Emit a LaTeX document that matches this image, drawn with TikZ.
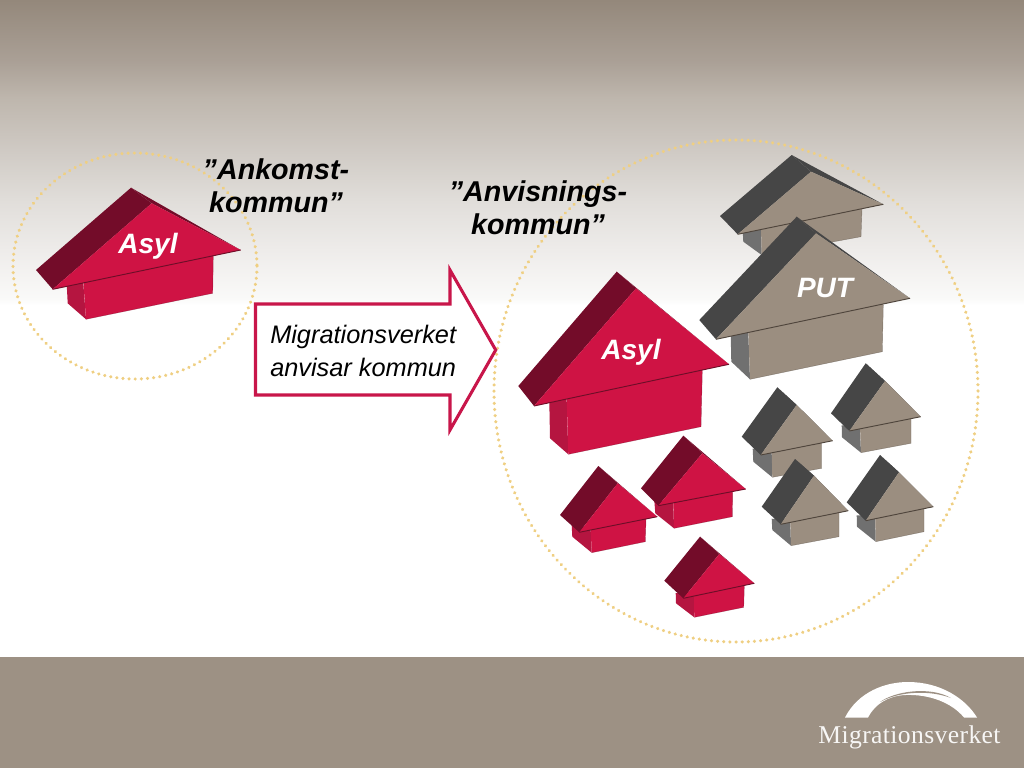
\documentclass[tikz,border=0pt]{standalone}
\usepackage{fontspec}
\setmainfont{Liberation Sans}
\newfontfamily\logofont{Liberation Serif}
\definecolor{bandc}{HTML}{9D9184}
\definecolor{asylf}{HTML}{CF1344}
\definecolor{asyld}{HTML}{730C29}
\definecolor{asyls}{HTML}{B51540}
\definecolor{asyll}{HTML}{6E0E28}
\definecolor{putf}{HTML}{9B8E80}
\definecolor{putd}{HTML}{464646}
\definecolor{puts}{HTML}{707070}
\definecolor{putl}{HTML}{4F453C}
\definecolor{dotc}{HTML}{EFCF82}
\definecolor{arrowc}{HTML}{C8164A}
\pgfdeclareverticalshading{skybg}{100bp}{rgb(0bp)=(1,1,1); rgb(25bp)=(1,1,1); rgb(26bp)=(0.98,0.98,0.975); rgb(34bp)=(0.933,0.925,0.918); rgb(42bp)=(0.882,0.87,0.855); rgb(50bp)=(0.816,0.796,0.773); rgb(59bp)=(0.745,0.714,0.678); rgb(65bp)=(0.667,0.627,0.588); rgb(75bp)=(0.58,0.533,0.482); rgb(100bp)=(0.58,0.533,0.482)}
\tikzset{
  x=0.75pt,y=-0.75pt,
  dotring/.style={dotc,line width=2.6pt,line cap=round,dash pattern=on 0.01pt off 4.6pt},
  asyl/.style={/tikz/hf/.style={fill=asylf},/tikz/hd/.style={fill=asyld},/tikz/hs/.style={fill=asyls},/tikz/hl/.style={draw=asyll}},
  put/.style={/tikz/hf/.style={fill=putf},/tikz/hd/.style={fill=putd},/tikz/hs/.style={fill=puts},/tikz/hl/.style={draw=putl}},
  hf/.style={},hd/.style={},hs/.style={},hl/.style={},
  headtext/.style={font=\fontsize{21.5}{25}\selectfont\bfseries\itshape,align=center,text=black,inner sep=0pt},
  labeltext/.style={font=\fontsize{21}{24}\selectfont\bfseries\itshape,text=white,inner sep=0pt},
  arrowbox/.style={draw=arrowc,fill=white,line width=2.3pt,miter limit=10},
  bodytext/.style={font=\fontsize{19}{24.3}\selectfont\itshape,align=left,text=black,inner sep=0pt}
}
% side-top, side-bottom, corner-bottom, corner-top, right-bottom, right-top
\newcommand{\hwalls}[6]{%
  \fill[hs] #1 ++(0,-3) -- #2 -- #3 -- #4 -- ++(0,-3) -- cycle;
  \fill[hf] #4 ++(0,-3) -- #3 -- #5 -- #6 -- ++(0,-3) -- cycle;
  \draw[hl,line width=0.3pt,opacity=.5] #3 -- #5 -- #6;
}
% apex, back-low, front-low, tip, ridge-inner
\newcommand{\hroof}[5]{%
  \fill[hd] #1 -- #5 -- #4 -- cycle;
  \fill[hd] #1 -- #2 -- #3 -- #5 -- cycle;
  \fill[hf] #5 -- #3 -- #4 -- cycle;
  \draw[hl,line width=0.7pt] #3 -- #4;
}
\begin{document}
\begin{tikzpicture}
\useasboundingbox (0,0) rectangle (1024,768);
\fill[white] (0,0) rectangle (1024,768);
\shade[shading=skybg] (0,0) rectangle (1024,305);
\fill[bandc] (0,657) rectangle (1024,768);

\draw[dotring] (135,266) ellipse [x radius=122,y radius=113];
\draw[dotring] (736,391) ellipse [x radius=242,y radius=251];

% left house
\begin{scope}[asyl]
\hwalls{(66.7,286.7)}{(67.7,303.3)}{(86,319.3)}{(83.3,283.3)}{(212.7,293.3)}{(213.3,256.7)}
\hroof{(131,187.7)}{(36,270)}{(52.7,289.3)}{(240.7,250)}{(151.7,203.3)}
\end{scope}

% PUT houses
\begin{scope}[put]
\hwalls{(742.7,233.3)}{(743.3,241.7)}{(761.7,255)}{(761,230)}{(861,236.7)}{(862,209.3)}
\hroof{(791.7,155)}{(720,216)}{(737.7,234.3)}{(883.3,204.3)}{(811,171.7)}
\hwalls{(730.7,336.7)}{(731.3,361.7)}{(750,379.3)}{(748.3,333.3)}{(882.3,351.7)}{(883.3,305)}
\hroof{(796.7,216.7)}{(699.3,320)}{(716,339.3)}{(910,298.3)}{(816,233.3)}
\hwalls{(752.7,451.7)}{(753.3,461.7)}{(772.3,477.3)}{(771.7,453.3)}{(821.7,468.3)}{(821.7,443.3)}
\hroof{(777.3,387.3)}{(741.7,436.7)}{(760.7,455)}{(832.7,440.7)}{(796.7,405)}
\hwalls{(841.7,428.3)}{(842,437.3)}{(861,452.7)}{(860,429)}{(911,443.3)}{(911,419.3)}
\hroof{(865.7,363.3)}{(831,413.3)}{(849.3,431)}{(920.7,416.7)}{(885,381)}
\hwalls{(771.7,521.7)}{(772.3,530)}{(791,545.7)}{(790.3,523.3)}{(839,536.7)}{(839,513.3)}
\hroof{(795,459)}{(761.7,506.7)}{(780.7,524.3)}{(848.3,510.7)}{(814,475.7)}
\hwalls{(856.7,518.3)}{(857,526.7)}{(875.7,541.7)}{(875.3,519)}{(924,531.7)}{(924,509)}
\hroof{(880,455)}{(846.7,502.3)}{(865.7,520.7)}{(933.3,506.7)}{(899,472.3)}
\end{scope}

% Asyl houses on the right
\begin{scope}[asyl]
\hwalls{(549.3,404)}{(550,438.3)}{(568.3,454.3)}{(566.7,400.7)}{(701,426.7)}{(702.3,371.7)}
\hroof{(616.7,271.7)}{(518.3,386)}{(534,406)}{(729,364.3)}{(636,288.3)}
\hwalls{(654.3,503.3)}{(655.3,513.3)}{(674,528.3)}{(673.3,504.3)}{(732.3,516.7)}{(732.7,492.3)}
\hroof{(683.3,435.7)}{(641,488.3)}{(658.3,505.7)}{(745.7,489)}{(702.3,453.3)}
\hwalls{(571.7,528.3)}{(572.3,536.7)}{(591.7,552.7)}{(590.7,530.7)}{(645.3,541.7)}{(646,519.3)}
\hroof{(598.3,466)}{(560,515)}{(579.3,532.3)}{(657.3,516.7)}{(617.7,483.3)}
\hwalls{(675.7,596)}{(676,603.3)}{(694.3,617.3)}{(694,596.7)}{(743.7,607.3)}{(744.3,586.7)}
\hroof{(700,536.7)}{(664.3,580.7)}{(683.3,598.3)}{(754.3,583.3)}{(719.3,554)}
\end{scope}

% arrow
\draw[arrowbox] (255.5,304) -- (450,304) -- (450,270) -- (495.7,350) -- (450,430) -- (450,395) -- (255.5,395) -- cycle;

% texts
\node[labeltext] (asyla) at (148,246) {Asyl};
\node[labeltext] (asylb) at (631,352) {Asyl};
\node[labeltext] (putlabel) at (825,288) {PUT};
\node[headtext] (ankomst) at (276,185.5) {”Ankomst-\\kommun”};
\node[headtext] (anvisning) at (538,207.5) {”Anvisnings-\\kommun”};
\node[bodytext,anchor=west] (anvisar) at (270,351) {Migrationsverket\\anvisar kommun};

% logo
\fill[white] (845,717.5) .. controls (858,692) and (885,682) .. (908,682)
  .. controls (940,682) and (965,698) .. (977,717.5) -- (964,717.5)
  .. controls (952,703) and (930,694) .. (905,695)
  .. controls (888,696) and (875,704) .. (868,717.5) -- cycle;
\fill[bandc] (880,702) .. controls (895,691) and (930,686) .. (951,698)
  .. controls (930,690) and (900,691) .. (880,702) -- cycle;
\node[font=\logofont\fontsize{19.2}{22}\selectfont,text=white!92!bandc,inner sep=0pt,anchor=base] (logotext) at (909.5,743.5) {\addfontfeature{LetterSpace=1.5}Migrationsverket};
\end{tikzpicture}
\end{document}
